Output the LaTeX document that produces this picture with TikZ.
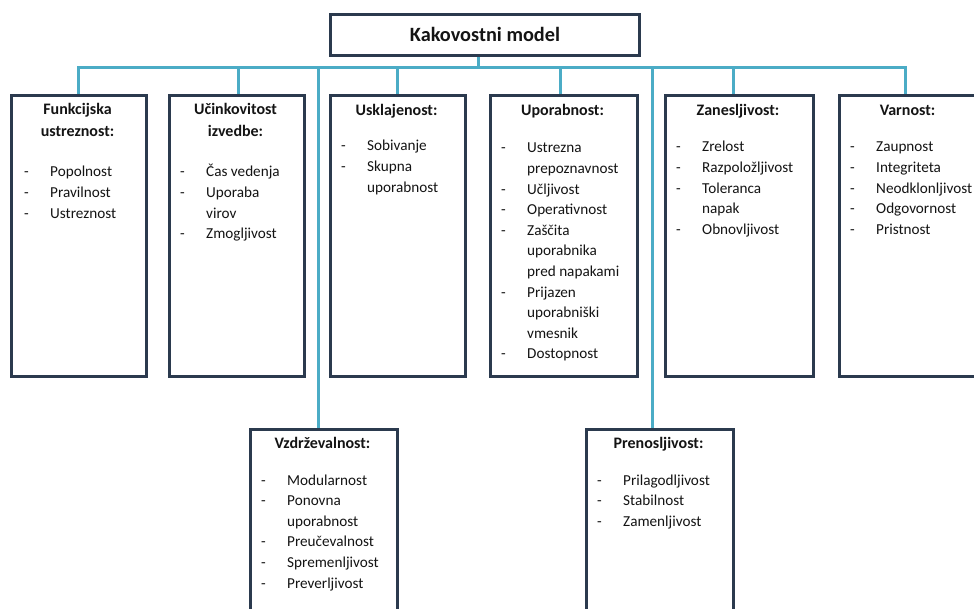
\documentclass[tikz,border=0pt]{standalone}
\usepackage{fontspec}
\setmainfont{Carlito}
\usetikzlibrary{backgrounds}
\definecolor{boxc}{HTML}{2B3A4E}
\definecolor{linec}{HTML}{4BACC6}
\definecolor{txt}{HTML}{141414}
\newcommand\mylist[1]{\begin{tabular}[t]{@{}p{26pt}@{}l@{}}#1\end{tabular}}
\newcommand\myhead[1]{\begin{tabular}[t]{@{}c@{}}#1\end{tabular}}
\begin{document}
\begin{tikzpicture}[x=1pt,y=-1pt,
  box/.style={draw=boxc,line width=2.9pt,fill=white,inner sep=0pt,anchor=north west},
  conn/.style={draw=linec,line width=3pt,line join=miter},
  head/.style={font=\fontsize{16}{22}\selectfont\bfseries,text=txt,anchor=base,inner sep=0pt},
  lst/.style={font=\fontsize{15.2}{20.6}\selectfont,text=txt,anchor=base west,inner sep=0pt}]
\useasboundingbox (0,0) rectangle (974,609);
% boxes
\node[box,minimum width=309pt,minimum height=41pt,text=txt,font=\fontsize{20.3}{24}\selectfont\bfseries] (km) at (329,13) {Kakovostni model};
\node[box,minimum width=135pt,minimum height=281pt] (fu) at (10,94) {};
\node[box,minimum width=135pt,minimum height=281pt] (uc) at (168,94) {};
\node[box,minimum width=135pt,minimum height=281pt] (us) at (329,94) {};
\node[box,minimum width=147pt,minimum height=281pt] (up) at (489,94) {};
\node[box,minimum width=148pt,minimum height=281pt] (za) at (664,94) {};
\node[box,minimum width=142pt,minimum height=281pt] (va) at (838,94) {};
\node[box,minimum width=147pt,minimum height=200pt] (vz) at (249,428) {};
\node[box,minimum width=147pt,minimum height=200pt] (pr) at (585,428) {};
% headings
\node[head] (hfu) at (77.5,115) {\myhead{Funkcijska\\ustreznost:}};
\node[head] (huc) at (235.5,115) {\myhead{Učinkovitost\\izvedbe:}};
\node[head] (hus) at (396.5,116) {Usklajenost:};
\node[head] (hup) at (562.5,116) {Uporabnost:};
\node[head] (hza) at (738,116) {Zanesljivost:};
\node[head] (hva) at (907.5,116) {Varnost:};
\node[head] (hvz) at (322.5,448) {Vzdrževalnost:};
\node[head] (hpr) at (658.5,448) {Prenosljivost:};
% lists
\node[lst] (lfu) at (24,177) {\mylist{- & Popolnost\\ - & Pravilnost\\ - & Ustreznost}};
\node[lst] (luc) at (180,177) {\mylist{- & Čas vedenja\\ - & Uporaba\\ & virov\\ - & Zmogljivost}};
\node[lst] (lus) at (341,151) {\mylist{- & Sobivanje\\ - & Skupna\\ & uporabnost}};
\node[lst] (lup) at (501,153) {\mylist{- & Ustrezna\\ & prepoznavnost\\ - & Učljivost\\ - & Operativnost\\ - & Zaščita\\ & uporabnika\\ & pred napakami\\ - & Prijazen\\ & uporabniški\\ & vmesnik\\ - & Dostopnost}};
\node[lst] (lza) at (676,152) {\mylist{- & Zrelost\\ - & Razpoložljivost\\ - & Toleranca\\ & napak\\ - & Obnovljivost}};
\node[lst] (lva) at (850,152) {\mylist{- & Zaupnost\\ - & Integriteta\\ - & Neodklonljivost\\ - & Odgovornost\\ - & Pristnost}};
\node[lst] (lvz) at (261,485) {\mylist{- & Modularnost\\ - & Ponovna\\ & uporabnost\\ - & Preučevalnost\\ - & Spremenljivost\\ - & Preverljivost}};
\node[lst] (lpr) at (597,485) {\mylist{- & Prilagodljivost\\ - & Stabilnost\\ - & Zamenljivost}};
% connectors
\coordinate (bus) at (0,68);
\begin{pgfonlayer}{background}
\draw[conn] ([xshift=-6.5pt]km.south) -- ([xshift=-6.5pt]km.south |- bus);
\draw[conn] (fu.north) -- (fu.north |- bus) -- ([xshift=-5pt]va.north |- bus) -- ([xshift=-5pt]va.north);
\draw[conn] ([xshift=1.5pt]uc.north |- bus) -- ([xshift=1.5pt]uc.north);
\draw[conn] (us.north |- bus) -- (us.north);
\draw[conn] ([xshift=-3pt]up.north |- bus) -- ([xshift=-3pt]up.north);
\draw[conn] ([xshift=-6pt]za.north |- bus) -- ([xshift=-6pt]za.north);
\draw[conn] ([xshift=-5.5pt]vz.north |- bus) -- ([xshift=-5.5pt]vz.north);
\draw[conn] ([xshift=-7pt]pr.north |- bus) -- ([xshift=-7pt]pr.north);
\end{pgfonlayer}
\end{tikzpicture}
\end{document}
